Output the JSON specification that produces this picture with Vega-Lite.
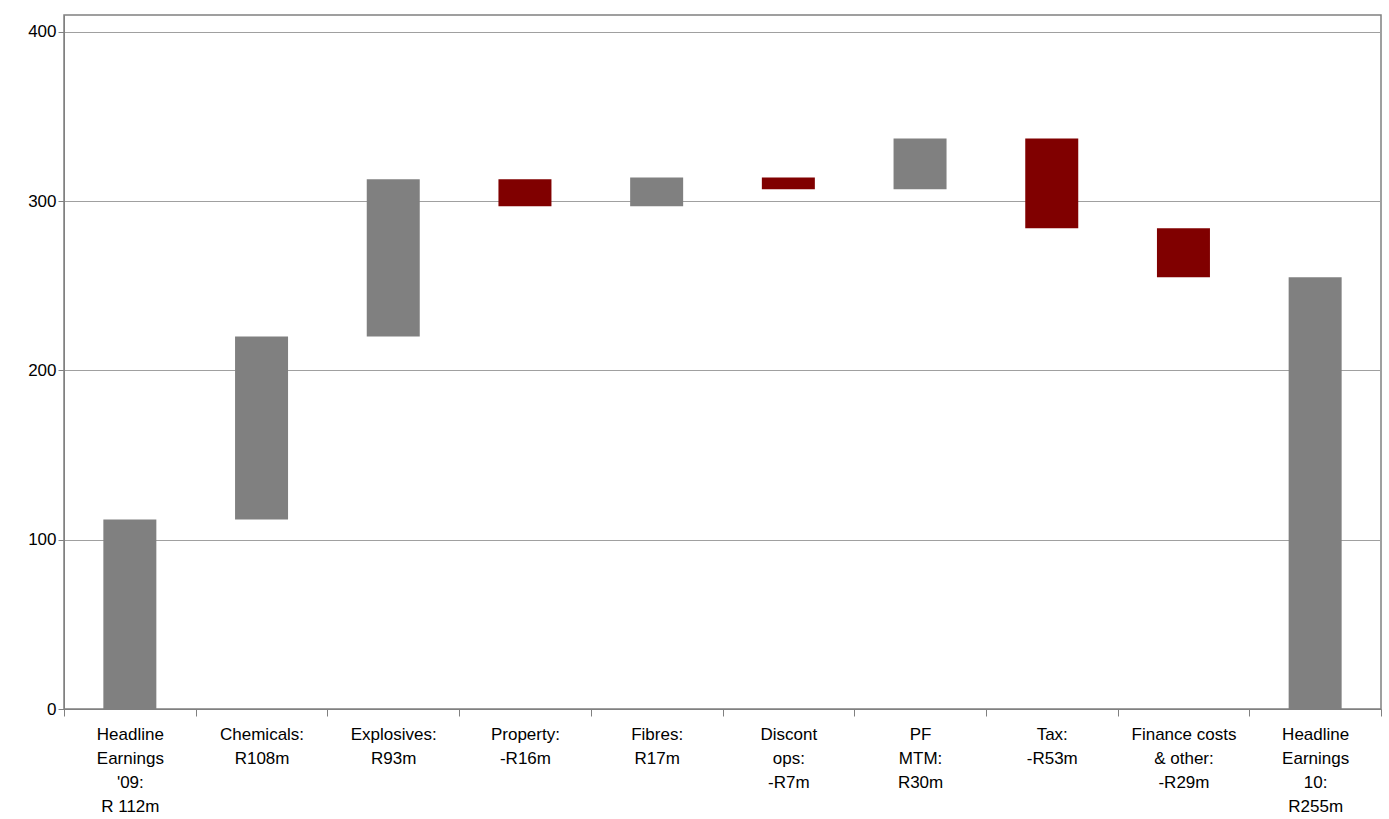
{
  "$schema": "https://vega.github.io/schema/vega-lite/v6.json",
  "autosize": "none",
  "padding": {"left": 64, "top": 15, "right": 8, "bottom": 110},
  "width": 1317,
  "height": 694,
  "background": "white",
  "config": {
    "font": "Liberation Sans",
    "view": {"stroke": "#808080", "strokeWidth": 1.5}
  },
  "data": {
    "values": [
      {"label": "Headline|Earnings|'09:|R 112m", "start": 0, "end": 112, "kind": "up"},
      {"label": "Chemicals:|R108m", "start": 112, "end": 220, "kind": "up"},
      {"label": "Explosives:|R93m", "start": 220, "end": 313, "kind": "up"},
      {"label": "Property:|-R16m", "start": 313, "end": 297, "kind": "down"},
      {"label": "Fibres:|R17m", "start": 297, "end": 314, "kind": "up"},
      {"label": "Discont|ops:|-R7m", "start": 314, "end": 307, "kind": "down"},
      {"label": "PF|MTM:|R30m", "start": 307, "end": 337, "kind": "up"},
      {"label": "Tax:|-R53m", "start": 337, "end": 284, "kind": "down"},
      {"label": "Finance costs|& other:|-R29m", "start": 284, "end": 255, "kind": "down"},
      {"label": "Headline|Earnings|10:|R255m", "start": 0, "end": 255, "kind": "up"}
    ]
  },
  "mark": {"type": "bar", "width": 53},
  "encoding": {
    "x": {
      "field": "label",
      "type": "nominal",
      "sort": null,
      "scale": {"paddingInner": 0, "paddingOuter": 0},
      "axis": {
        "title": null,
        "labelAngle": 0,
        "labelExpr": "split(datum.label, '|')",
        "labelFontSize": 17,
        "labelColor": "#000000",
        "labelPadding": 10,
        "labelLineHeight": 24,
        "tickBand": "extent",
        "tickColor": "#808080",
        "tickSize": 7,
        "domainColor": "#808080",
        "grid": false
      }
    },
    "y": {
      "field": "start",
      "type": "quantitative",
      "scale": {"domain": [0, 410], "nice": false},
      "axis": {
        "title": null,
        "values": [0, 100, 200, 300, 400],
        "labelFontSize": 17,
        "labelColor": "#000000",
        "tickColor": "#808080",
        "tickSize": 6,
        "domainColor": "#808080",
        "gridColor": "#a0a0a0"
      }
    },
    "y2": {"field": "end"},
    "color": {
      "field": "kind",
      "type": "nominal",
      "scale": {"domain": ["up", "down"], "range": ["#808080", "#800000"]},
      "legend": null
    }
  }
}
